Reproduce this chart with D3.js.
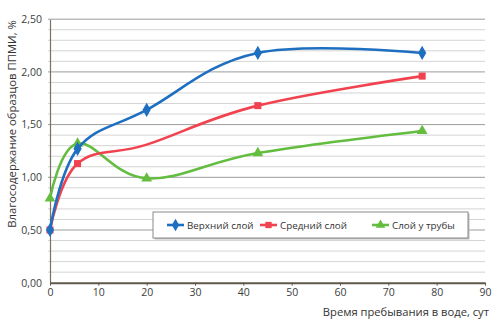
<!DOCTYPE html>
<html>
<head>
<meta charset="utf-8">
<script src="https://cdn.jsdelivr.net/npm/d3@7"></script>
<style>
  html, body { margin: 0; padding: 0; background: #fff; }
  svg { display: block; font-family: "Open Sans", "Noto Sans", sans-serif; }
</style>
</head>
<body>
<svg id="chart" width="500" height="324"></svg>
<script>
// Moisture content of PPMI samples vs. days in water
const seriesNames = ["Верхний слой", "Средний слой", "Слой у трубы"];
const daysTop = [0, 5.7, 20, 43, 77];
const valuesTop = [0.50, 1.27, 1.64, 2.18, 2.18];
const daysMiddle = [0, 5.7, 20, 43, 77];
const valuesMiddle = [0.50, 1.13, 1.31, 1.68, 1.96];
const markedMiddle = [true, true, false, true, true];
const daysPipe = [0, 5.7, 20, 43, 77];
const valuesPipe = [0.80, 1.32, 0.99, 1.23, 1.44];
const xTicks = [0, 10, 20, 30, 40, 50, 60, 70, 80, 90];
const yTicks = [0, 0.5, 1.0, 1.5, 2.0, 2.5];
const yMinorStep = 0.1;
const yTitle = "Влагосодержание образцов ППМИ, %";
const xTitle = "Время пребывания в воде, сут";

const svg = d3.select("#chart");
const m = { left: 50, right: 485, top: 19.2, bottom: 282.7 };

const x = d3.scaleLinear().domain([0, 90]).range([m.left, m.right]);
const y = d3.scaleLinear().domain([0, 2.5]).range([m.bottom, m.top]);

const colors = ["#1f6fc1", "#f1434f", "#63bd3f"];
const shapes = [d3.symbolDiamond, d3.symbolSquare, d3.symbolTriangle];
const sizes = [58, 50, 50];

// grid: minor every 0.1, major every 0.5
const minor = d3.range(0, 2.5001, yMinorStep).map(v => +v.toFixed(2));
svg.append("g").selectAll("line").data(minor.filter(v => Math.abs(v * 2 - Math.round(v * 2)) > 1e-6))
  .join("line")
  .attr("x1", m.left - 2).attr("x2", m.right)
  .attr("y1", d => y(d)).attr("y2", d => y(d))
  .attr("stroke", "#d4d4d4").attr("stroke-width", 1);
svg.append("g").selectAll("line").data(yTicks.filter(v => v > 0))
  .join("line")
  .attr("x1", m.left - 2).attr("x2", m.right)
  .attr("y1", d => y(d)).attr("y2", d => y(d))
  .attr("stroke", "#9c9c9c").attr("stroke-width", 1);

// y axis
const yAxis = d3.axisLeft(y).tickValues(yTicks).tickSize(0).tickPadding(8)
  .tickFormat(d => d3.format(".2f")(d).replace(".", ","));
const gy = svg.append("g").attr("transform", `translate(${m.left},0)`).call(yAxis);
gy.select(".domain").attr("stroke", "#7a7266").attr("stroke-width", 1.2);
gy.selectAll("text").attr("font-size", 10.5).attr("fill", "#3d3d3d")
  .attr("font-family", "'Open Sans', 'Noto Sans', sans-serif");

// x axis
const xAxis = d3.axisBottom(x).tickValues(xTicks).tickSize(3).tickSizeOuter(0).tickPadding(3);
const gx = svg.append("g").attr("transform", `translate(0,${m.bottom})`).call(xAxis);
gx.select(".domain").attr("stroke", "#5f574b").attr("stroke-width", 2);
gx.selectAll(".tick line").attr("stroke", "#5f574b");
gx.selectAll("text").attr("font-size", 10.5).attr("fill", "#3d3d3d")
  .attr("font-family", "'Open Sans', 'Noto Sans', sans-serif");

// axis titles
svg.append("text")
  .attr("transform", "translate(16,124) rotate(-90)")
  .attr("text-anchor", "middle")
  .attr("font-size", 11.3).attr("fill", "#333")
  .text(yTitle);
svg.append("text")
  .attr("x", 489).attr("y", 316)
  .attr("text-anchor", "end")
  .attr("font-size", 11.2).attr("fill", "#333")
  .text(xTitle);

// series
const series = [
  { days: daysTop, values: valuesTop, marked: daysTop.map(() => true) },
  { days: daysMiddle, values: valuesMiddle, marked: markedMiddle },
  { days: daysPipe, values: valuesPipe, marked: daysPipe.map(() => true) }
];
const line = d3.line().x(d => x(d[0])).y(d => y(d[1])).curve(d3.curveCardinal.tension(-0.1));

// draw in reverse so the top layer sits above
[2, 1, 0].forEach(i => {
  const s = series[i];
  const pts = s.days.map((d, j) => [d, s.values[j], s.marked[j]]);
  svg.append("path").datum(pts)
    .attr("d", line)
    .attr("fill", "none")
    .attr("stroke", colors[i])
    .attr("stroke-width", 2.6)
    .attr("stroke-linejoin", "round");
  svg.append("g").selectAll("path").data(pts.filter(p => p[2]))
    .join("path")
    .attr("transform", p => `translate(${x(p[0])},${y(p[1])})`)
    .attr("d", d3.symbol().type(shapes[i]).size(sizes[i]))
    .attr("fill", colors[i]);
});

// legend
const lg = svg.append("g");
lg.append("rect").attr("x", 154.5).attr("y", 213.5).attr("width", 315).attr("height", 26)
  .attr("fill", "#bdbdbd");
lg.append("rect").attr("x", 153).attr("y", 212).attr("width", 315).attr("height", 26)
  .attr("fill", "#fff").attr("stroke", "#8a8a8a").attr("stroke-width", 1);
const legendX = [167, 260, 372];
seriesNames.forEach((name, i) => {
  const cx = legendX[i];
  lg.append("line").attr("x1", cx).attr("x2", cx + 17).attr("y1", 225).attr("y2", 225)
    .attr("stroke", colors[i]).attr("stroke-width", 2.6);
  lg.append("path").attr("transform", `translate(${cx + 8.5},225)`)
    .attr("d", d3.symbol().type(shapes[i]).size(sizes[i] * 0.8))
    .attr("fill", colors[i]);
  lg.append("text").attr("x", cx + 20).attr("y", 228.5)
    .attr("font-size", 9.8).attr("fill", "#333").text(name);
});
</script>
</body>
</html>
